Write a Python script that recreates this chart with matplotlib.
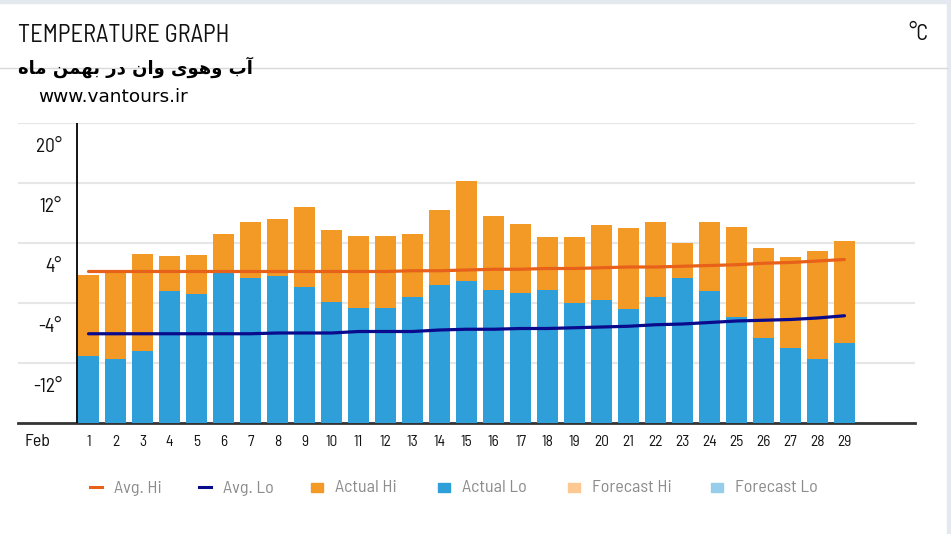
import matplotlib
matplotlib.use("Agg")
import matplotlib.pyplot as plt
import matplotlib.transforms as mtransforms
from matplotlib.patches import Rectangle
from matplotlib.lines import Line2D

# ---------------- data ----------------
days = list(range(1, 30))
actual_hi = [-0.2, 0.2, 2.6, 2.3, 2.4, 5.2, 6.8, 7.2, 8.8, 5.8, 5.0, 5.0, 5.2, 8.4,
             12.2, 7.6, 6.6, 4.8, 4.8, 6.4, 6.0, 6.8, 4.0, 6.8, 6.2, 3.4, 2.2, 3.0, 4.3]
actual_lo = [-11.0, -11.4, -10.4, -2.4, -2.8, 0.0, -0.6, -0.4, -1.9, -3.8, -4.6, -4.6,
             -3.2, -1.6, -1.0, -2.2, -2.6, -2.2, -4.0, -3.6, -4.8, -3.2, -0.6, -2.4,
             -5.8, -8.6, -10.0, -11.4, -9.3]
avg_hi = [0.2, 0.2, 0.2, 0.2, 0.2, 0.2, 0.2, 0.2, 0.2, 0.2, 0.2, 0.2, 0.3, 0.3, 0.4,
          0.5, 0.5, 0.6, 0.6, 0.7, 0.8, 0.8, 0.9, 1.0, 1.1, 1.3, 1.4, 1.6, 1.8]
avg_lo = [-8.1, -8.1, -8.1, -8.1, -8.1, -8.1, -8.1, -8.0, -8.0, -8.0, -7.8, -7.8, -7.8,
          -7.6, -7.5, -7.5, -7.4, -7.4, -7.3, -7.2, -7.1, -6.9, -6.8, -6.6, -6.4, -6.3,
          -6.2, -6.0, -5.7]
y_ticks = [20, 12, 4, -4, -12]
y_tick_labels = ["20°", "12°", "4°", "-4°", "-12°"]
x_tick_labels = [str(d) for d in days]
month_label = "Feb"
title = "TEMPERATURE GRAPH"
unit = "°C"
website = "www.vantours.ir"
legend_labels = ["Avg. Hi", "Avg. Lo", "Actual Hi", "Actual Lo", "Forecast Hi", "Forecast Lo"]
y_min, y_max = -20, 20

# Persian subtitle "آب وهوی وان در بهمن ماه", shaped into presentation forms
# (logical order), then reversed into visual order for left-to-right drawing
subtitle_fa_shaped = ("\uFE81\uFE8F" + " " + "\uFEED\uFEEB\uFEEE\uFEEF" + " "
                      + "\uFEED\uFE8D\uFEE5" + " " + "\uFEA9\uFEAD" + " "
                      + "\uFE91\uFEEC\uFEE4\uFEE6" + " " + "\uFEE3\uFE8E\uFEE9")
subtitle_fa_visual = subtitle_fa_shaped[::-1]

# ---------------- styles ----------------
C_HI_BAR = "#F39A26"
C_LO_BAR = "#2E9FD8"
C_AVG_HI = "#E8611A"
C_AVG_LO = "#0A0A8C"
C_FC_HI = "#FDC892"
C_FC_LO = "#95CDEA"
FONT = ["Barlow Semi Condensed", "DejaVu Sans"]

W, H = 951, 534
fig = plt.figure(figsize=(W / 100, H / 100), dpi=100)
fig.patch.set_facecolor("white")


def fx(x):
    return x / W


def fy(y):
    return 1 - y / H


# frame bands (top and right)
fig.patches.append(Rectangle((0, fy(3)), 1, 3 / H, transform=fig.transFigure,
                             color="#E4E9F0", zorder=0))
fig.patches.append(Rectangle((fx(947), 0), 4 / W, 1, transform=fig.transFigure,
                             color="#E4E9F0", zorder=0))
# separator line under title
fig.add_artist(Line2D([0, fx(947)], [fy(67.5), fy(67.5)], transform=fig.transFigure,
                      color="#D9D9D9", lw=1))

fig.text(fx(18), fy(35), title, fontsize=17.6, family=FONT, color="#111111",
         ha="left", va="center")
fig.text(fx(928), fy(35), unit, fontsize=16, family=FONT, color="#111111",
         ha="right", va="center")
fig.text(fx(18), fy(67), subtitle_fa_visual, fontsize=13, family="DejaVu Sans",
         fontweight="bold", color="#000000", ha="left", va="center")
fig.text(fx(38), fy(97), website, fontsize=13.3, family="DejaVu Sans",
         color="#000000", ha="left", va="center")

# ---------------- axes ----------------
ax = fig.add_axes([fx(18), fy(423), (915 - 18) / W, 300 / H])
ax.set_facecolor("none")
step_px = 27.0
first_center = 88.5
ax.set_xlim(1 - (first_center - 18) / step_px, 1 + (915 - first_center) / step_px)
ax.set_ylim(y_min, y_max)

ax.bar(days, [v - y_min for v in actual_hi], bottom=y_min, width=0.78,
       color=C_HI_BAR, zorder=2)
ax.bar(days, [v - y_min for v in actual_lo], bottom=y_min, width=0.78,
       color=C_LO_BAR, zorder=3)
ax.plot(days, avg_hi, color=C_AVG_HI, lw=2.3, zorder=4, solid_capstyle="round")
ax.plot(days, avg_lo, color=C_AVG_LO, lw=2.3, zorder=4, solid_capstyle="round")

ax.set_yticks(y_ticks)
ax.tick_params(axis="y", left=False, labelleft=False)
ax.grid(axis="y", color="#E6E6E6", lw=1.5, zorder=0)
ax.set_axisbelow(True)
for s in ["top", "right", "left"]:
    ax.spines[s].set_visible(False)
ax.spines["bottom"].set_color("#333333")
ax.spines["bottom"].set_linewidth(2)
ax.axvline(1 - 11.5 / step_px, color="#000000", lw=1.3, zorder=5)

ax.set_xticks(days)
ax.set_xticklabels(x_tick_labels, fontsize=11, family=FONT, color="#111111")
ax.tick_params(axis="x", length=0, pad=9)

# y labels sit below their gridlines
ytrans = mtransforms.blended_transform_factory(fig.transFigure, ax.transData) + \
    mtransforms.ScaledTranslation(0, -23.5 / 100, fig.dpi_scale_trans)
for v, lab in zip(y_ticks, y_tick_labels):
    fig.text(fx(62), v, lab, transform=ytrans, fontsize=14, family=FONT,
             color="#111111", ha="right", va="center")

fig.text(fx(24), fy(441), month_label, fontsize=13, family=FONT, color="#111111",
         ha="left", va="center")

# ---------------- legend ----------------
leg_y = 487
line_items = [(90, 102, 114, C_AVG_HI), (199, 211, 223, C_AVG_LO)]
for (x0, x1, xt, c), lab in zip(line_items, legend_labels[:2]):
    fig.add_artist(Line2D([fx(x0), fx(x1)], [fy(leg_y), fy(leg_y)],
                          transform=fig.transFigure, color=c, lw=2.2))
    fig.text(fx(xt), fy(leg_y + 1), lab, fontsize=13, family=FONT, color="#8C8C8C",
             ha="left", va="center")
box_items = [(311, 335, C_HI_BAR), (438, 462, C_LO_BAR), (568, 592, C_FC_HI),
             (711, 735, C_FC_LO)]
for (x0, xt, c), lab in zip(box_items, legend_labels[2:]):
    fig.patches.append(Rectangle((fx(x0), fy(leg_y + 4.5)), 12 / W, 9 / H,
                                 transform=fig.transFigure, color=c))
    fig.text(fx(xt), fy(leg_y + 1), lab, fontsize=13, family=FONT, color="#8C8C8C",
             ha="left", va="center")

fig.savefig("out.png", dpi=100)
